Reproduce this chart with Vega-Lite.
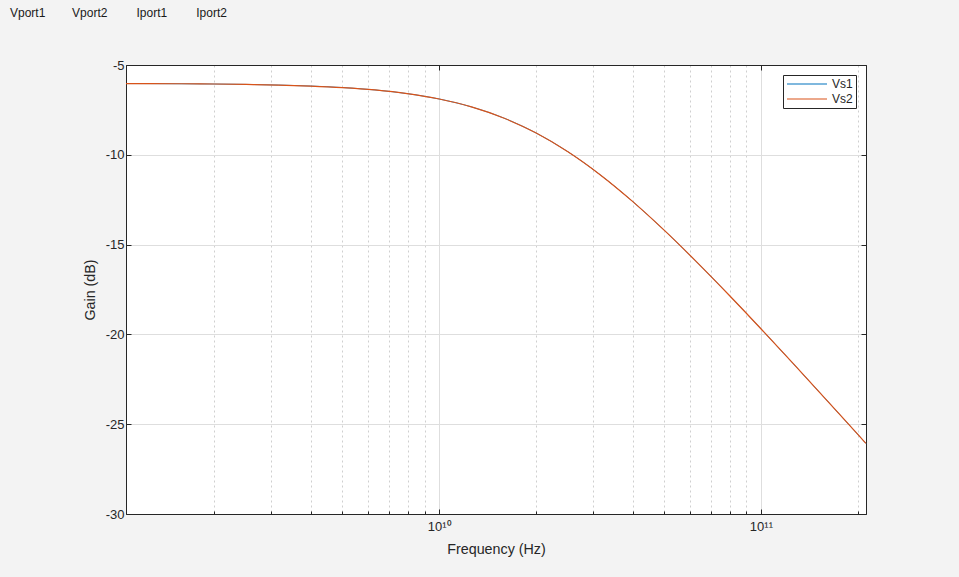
{
  "$schema": "https://vega.github.io/schema/vega-lite/v6.json",
  "width": 740,
  "height": 449,
  "autosize": {"type": "none"},
  "padding": {"left": 126, "top": 65, "right": 93, "bottom": 63},
  "background": "#f3f3f3",
  "title": {
    "text": "Vport1\u00a0\u00a0\u00a0\u00a0\u00a0\u00a0\u00a0\u00a0Vport2\u00a0\u00a0\u00a0\u00a0\u00a0\u00a0\u00a0\u00a0\u2009Iport1\u00a0\u00a0\u00a0\u00a0\u00a0\u00a0\u00a0\u00a0\u2009Iport2",
    "anchor": "start",
    "frame": "group",
    "dx": -116,
    "offset": 39,
    "font": "Liberation Sans",
    "fontSize": 12,
    "fontWeight": "normal",
    "color": "#1a1a1a"
  },
  "config": {
    "view": {"fill": "white", "stroke": "#262626", "strokeWidth": 1},
    "axis": {
      "labelFont": "Liberation Sans",
      "labelFontSize": 13,
      "labelColor": "#262626",
      "titleFont": "Liberation Sans",
      "titleFontSize": 14.3,
      "titleFontWeight": "normal",
      "titleColor": "#262626",
      "domainColor": "#262626",
      "tickColor": "#262626",
      "gridColor": "#dedede"
    },
    "legend": {
      "fillColor": "white",
      "strokeColor": "#262626",
      "padding": 3,
      "symbolType": "M-1,0H7",
      "symbolSize": 100,
      "symbolStrokeWidth": 1.2,
      "labelFont": "Liberation Sans",
      "labelFontSize": 12,
      "labelColor": "#262626",
      "labelOffset": 34,
      "rowPadding": 3
    }
  },
  "data": {
    "values": [
      {"series": "Vs1", "freq": 1.062e9, "gain": -6.032},
      {"series": "Vs1", "freq": 1.259e9, "gain": -6.036},
      {"series": "Vs1", "freq": 1.585e9, "gain": -6.045},
      {"series": "Vs1", "freq": 1.995e9, "gain": -6.059},
      {"series": "Vs1", "freq": 2.512e9, "gain": -6.081},
      {"series": "Vs1", "freq": 3.162e9, "gain": -6.116},
      {"series": "Vs1", "freq": 3.981e9, "gain": -6.171},
      {"series": "Vs1", "freq": 5.012e9, "gain": -6.257},
      {"series": "Vs1", "freq": 6.31e9, "gain": -6.389},
      {"series": "Vs1", "freq": 7.943e9, "gain": -6.591},
      {"series": "Vs1", "freq": 1e10, "gain": -6.893},
      {"series": "Vs1", "freq": 1.259e10, "gain": -7.333},
      {"series": "Vs1", "freq": 1.585e10, "gain": -7.949},
      {"series": "Vs1", "freq": 1.995e10, "gain": -8.776},
      {"series": "Vs1", "freq": 2.512e10, "gain": -9.831},
      {"series": "Vs1", "freq": 3.162e10, "gain": -11.107},
      {"series": "Vs1", "freq": 3.981e10, "gain": -12.579},
      {"series": "Vs1", "freq": 5.012e10, "gain": -14.21},
      {"series": "Vs1", "freq": 6.31e10, "gain": -15.96},
      {"series": "Vs1", "freq": 7.943e10, "gain": -17.794},
      {"series": "Vs1", "freq": 1e11, "gain": -19.686},
      {"series": "Vs1", "freq": 1.259e11, "gain": -21.617},
      {"series": "Vs1", "freq": 1.585e11, "gain": -23.572},
      {"series": "Vs1", "freq": 1.995e11, "gain": -25.544},
      {"series": "Vs1", "freq": 2.122e11, "gain": -26.07},
      {"series": "Vs2", "freq": 1.062e9, "gain": -6.032},
      {"series": "Vs2", "freq": 1.259e9, "gain": -6.036},
      {"series": "Vs2", "freq": 1.585e9, "gain": -6.045},
      {"series": "Vs2", "freq": 1.995e9, "gain": -6.059},
      {"series": "Vs2", "freq": 2.512e9, "gain": -6.081},
      {"series": "Vs2", "freq": 3.162e9, "gain": -6.116},
      {"series": "Vs2", "freq": 3.981e9, "gain": -6.171},
      {"series": "Vs2", "freq": 5.012e9, "gain": -6.257},
      {"series": "Vs2", "freq": 6.31e9, "gain": -6.389},
      {"series": "Vs2", "freq": 7.943e9, "gain": -6.591},
      {"series": "Vs2", "freq": 1e10, "gain": -6.893},
      {"series": "Vs2", "freq": 1.259e10, "gain": -7.333},
      {"series": "Vs2", "freq": 1.585e10, "gain": -7.949},
      {"series": "Vs2", "freq": 1.995e10, "gain": -8.776},
      {"series": "Vs2", "freq": 2.512e10, "gain": -9.831},
      {"series": "Vs2", "freq": 3.162e10, "gain": -11.107},
      {"series": "Vs2", "freq": 3.981e10, "gain": -12.579},
      {"series": "Vs2", "freq": 5.012e10, "gain": -14.21},
      {"series": "Vs2", "freq": 6.31e10, "gain": -15.96},
      {"series": "Vs2", "freq": 7.943e10, "gain": -17.794},
      {"series": "Vs2", "freq": 1e11, "gain": -19.686},
      {"series": "Vs2", "freq": 1.259e11, "gain": -21.617},
      {"series": "Vs2", "freq": 1.585e11, "gain": -23.572},
      {"series": "Vs2", "freq": 1.995e11, "gain": -25.544},
      {"series": "Vs2", "freq": 2.122e11, "gain": -26.07}
    ]
  },
  "layer": [
    {
      "transform": [{"filter": "datum.series == 'Vs1'"}],
      "mark": {"type": "line", "strokeWidth": 0.8, "interpolate": "monotone"},
      "encoding": {
        "x": {
          "field": "freq",
          "type": "quantitative",
          "scale": {"type": "log", "domain": [1.062e9, 2.122e11], "nice": false},
          "axis": {
            "orient": "bottom",
            "title": "Frequency (Hz)",
            "values": [2e9, 3e9, 4e9, 5e9, 6e9, 7e9, 8e9, 9e9, 1e10, 2e10, 3e10, 4e10, 5e10, 6e10, 7e10, 8e10, 9e10, 1e11, 2e11],
            "labelExpr": "datum.value == 1e10 ? '10¹⁰' : (datum.value == 1e11 ? '10¹¹' : '')",
            "grid": true,
            "gridDash": {"condition": {"test": "datum.value == 1e10 || datum.value == 1e11", "value": []}, "value": [2, 3]},
            "gridColor": {"condition": {"test": "datum.value == 1e10 || datum.value == 1e11", "value": "#dedede"}, "value": "#cfcfcf"},
            "tickSize": {"condition": {"test": "datum.value == 1e10 || datum.value == 1e11", "value": -5}, "value": -3},
            "labelPadding": 11,
            "titlePadding": 7,
            "labelFlush": false,
            "labelOverlap": false
          }
        },
        "y": {
          "field": "gain",
          "type": "quantitative",
          "scale": {"domain": [-30, -5], "nice": false, "zero": false},
          "axis": {
            "orient": "left",
            "title": "Gain (dB)",
            "values": [-30, -25, -20, -15, -10, -5],
            "labelExpr": "'' + datum.value",
            "grid": true,
            "tickSize": -5,
            "labelPadding": 7,
            "titlePadding": 8,
            "labelFlush": false
          }
        },
        "color": {
          "field": "series",
          "type": "nominal",
          "scale": {"domain": ["Vs1", "Vs2"], "range": ["#0072BD", "#D95319"]},
          "legend": {"title": null, "orient": "top-right", "offset": 10}
        }
      }
    },
    {
      "transform": [{"filter": "datum.series == 'Vs2'"}],
      "mark": {"type": "line", "strokeWidth": 1.2, "interpolate": "monotone"},
      "encoding": {
        "x": {
          "field": "freq",
          "type": "quantitative",
          "scale": {"type": "log", "domain": [1.062e9, 2.122e11], "nice": false},
          "axis": {
            "orient": "top",
            "title": null,
            "values": [1e10, 1e11],
            "labels": false,
            "grid": false,
            "tickSize": -5
          }
        },
        "y": {
          "field": "gain",
          "type": "quantitative",
          "scale": {"domain": [-30, -5], "nice": false, "zero": false},
          "axis": {
            "orient": "right",
            "title": null,
            "values": [-30, -25, -20, -15, -10, -5],
            "labels": false,
            "grid": false,
            "tickSize": -5
          }
        },
        "color": {
          "field": "series",
          "type": "nominal",
          "scale": {"domain": ["Vs1", "Vs2"], "range": ["#0072BD", "#D95319"]},
          "legend": {"title": null, "orient": "top-right", "offset": 10}
        }
      }
    }
  ],
  "resolve": {"axis": {"x": "independent", "y": "independent"}}
}
